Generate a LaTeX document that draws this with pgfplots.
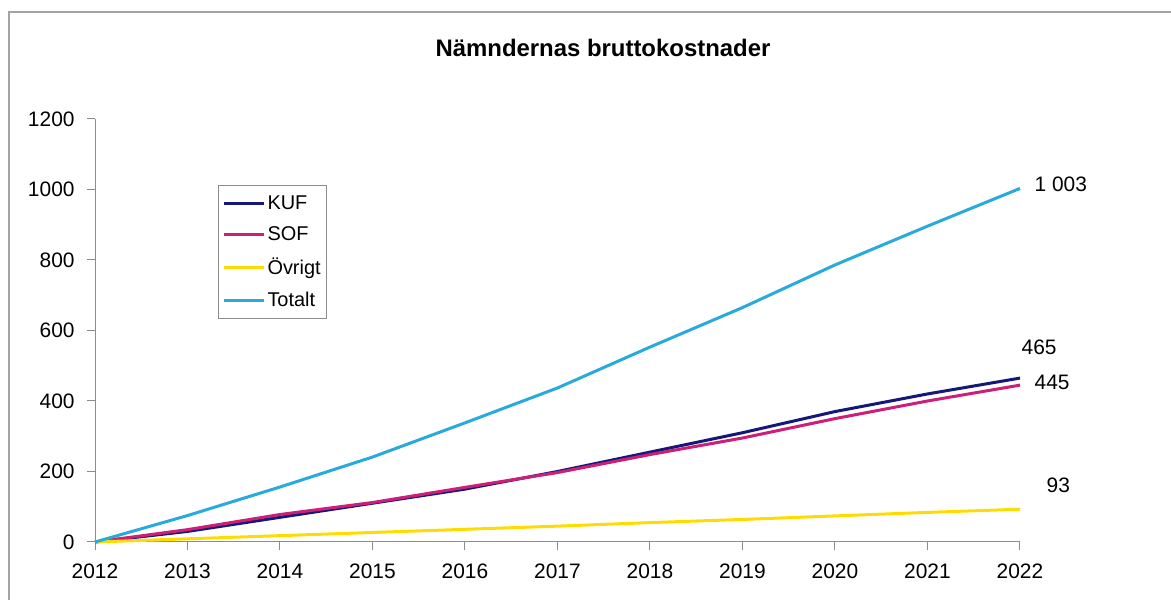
\documentclass[border=0pt]{standalone}
\usepackage{pgfplots}
\pgfplotsset{compat=1.18}
\usepackage{fontspec}
\setmainfont{Liberation Sans}
\definecolor{kuf}{RGB}{20,24,120}
\definecolor{sof}{RGB}{205,30,120}
\definecolor{ovr}{RGB}{255,220,0}
\definecolor{tot}{RGB}{40,170,220}
\definecolor{axg}{RGB}{140,140,140}
\begin{document}
\begin{tikzpicture}
\path[use as bounding box] (0,0) rectangle (1171bp,602bp);
\draw[axg!80, line width=1.5bp] (9bp,2bp) -- (9bp,590bp) -- (1171bp,590bp);
\begin{axis}[
  at={(95bp,60bp)}, anchor=south west,
  scale only axis, width=925bp, height=423bp,
  xmin=2012, xmax=2022, ymin=0, ymax=1200,
  axis x line=bottom, axis y line=left,
  axis line style={axg, line width=1bp, -},
  xtick={2012,...,2022}, ytick={0,200,...,1200},
  tick style={axg, line width=1bp},
  tick align=outside, major tick length=8bp,
  /pgf/number format/1000 sep={},
  /pgf/number format/assume math mode=true,
  ticklabel style={font=\fontsize{21}{24}\selectfont},
  xticklabel style={yshift=-10bp},
  yticklabel style={xshift=-9bp},
  clip=false,
  legend cell align=left,
  legend style={at={(0.133,0.844)}, anchor=north west, draw=axg, line width=1bp,
    font=\fontsize{20}{22}\selectfont, row sep=12bp, inner xsep=4bp, inner ysep=8bp},
  legend image code/.code={\draw[#1] (0bp,0bp) -- (40bp,0bp);},
]
\addplot[kuf, line width=3bp] coordinates {(2012,0) (2013,30) (2014,70) (2015,110) (2016,150) (2017,200) (2018,255) (2019,310) (2020,370) (2021,420) (2022,465)};
\addlegendentry{KUF}
\addplot[sof, line width=3bp] coordinates {(2012,0) (2013,35) (2014,78) (2015,112) (2016,155) (2017,197) (2018,248) (2019,295) (2020,350) (2021,400) (2022,445)};
\addlegendentry{SOF}
\addplot[ovr, line width=3bp] coordinates {(2012,0) (2013,9) (2014,18) (2015,27) (2016,36) (2017,45) (2018,55) (2019,64) (2020,74) (2021,84) (2022,93)};
\addlegendentry{Övrigt}
\addplot[tot, line width=3bp] coordinates {(2012,0) (2013,75) (2014,156) (2015,241) (2016,338) (2017,437) (2018,553) (2019,665) (2020,786) (2021,896) (2022,1003)};
\addlegendentry{Totalt}
\node[anchor=west, font=\fontsize{21}{24}\selectfont] at (axis cs:2022.12,1015) {1 003};
\node[anchor=west, font=\fontsize{21}{24}\selectfont] at (axis cs:2021.98,552) {465};
\node[anchor=west, font=\fontsize{21}{24}\selectfont] at (axis cs:2022.12,453) {445};
\node[anchor=west, font=\fontsize{21}{24}\selectfont] at (axis cs:2022.25,160) {93};
\end{axis}
\node[font=\bfseries\fontsize{24}{28}\selectfont] at (603bp,554bp) {Nämndernas bruttokostnader};
\end{tikzpicture}
\end{document}
